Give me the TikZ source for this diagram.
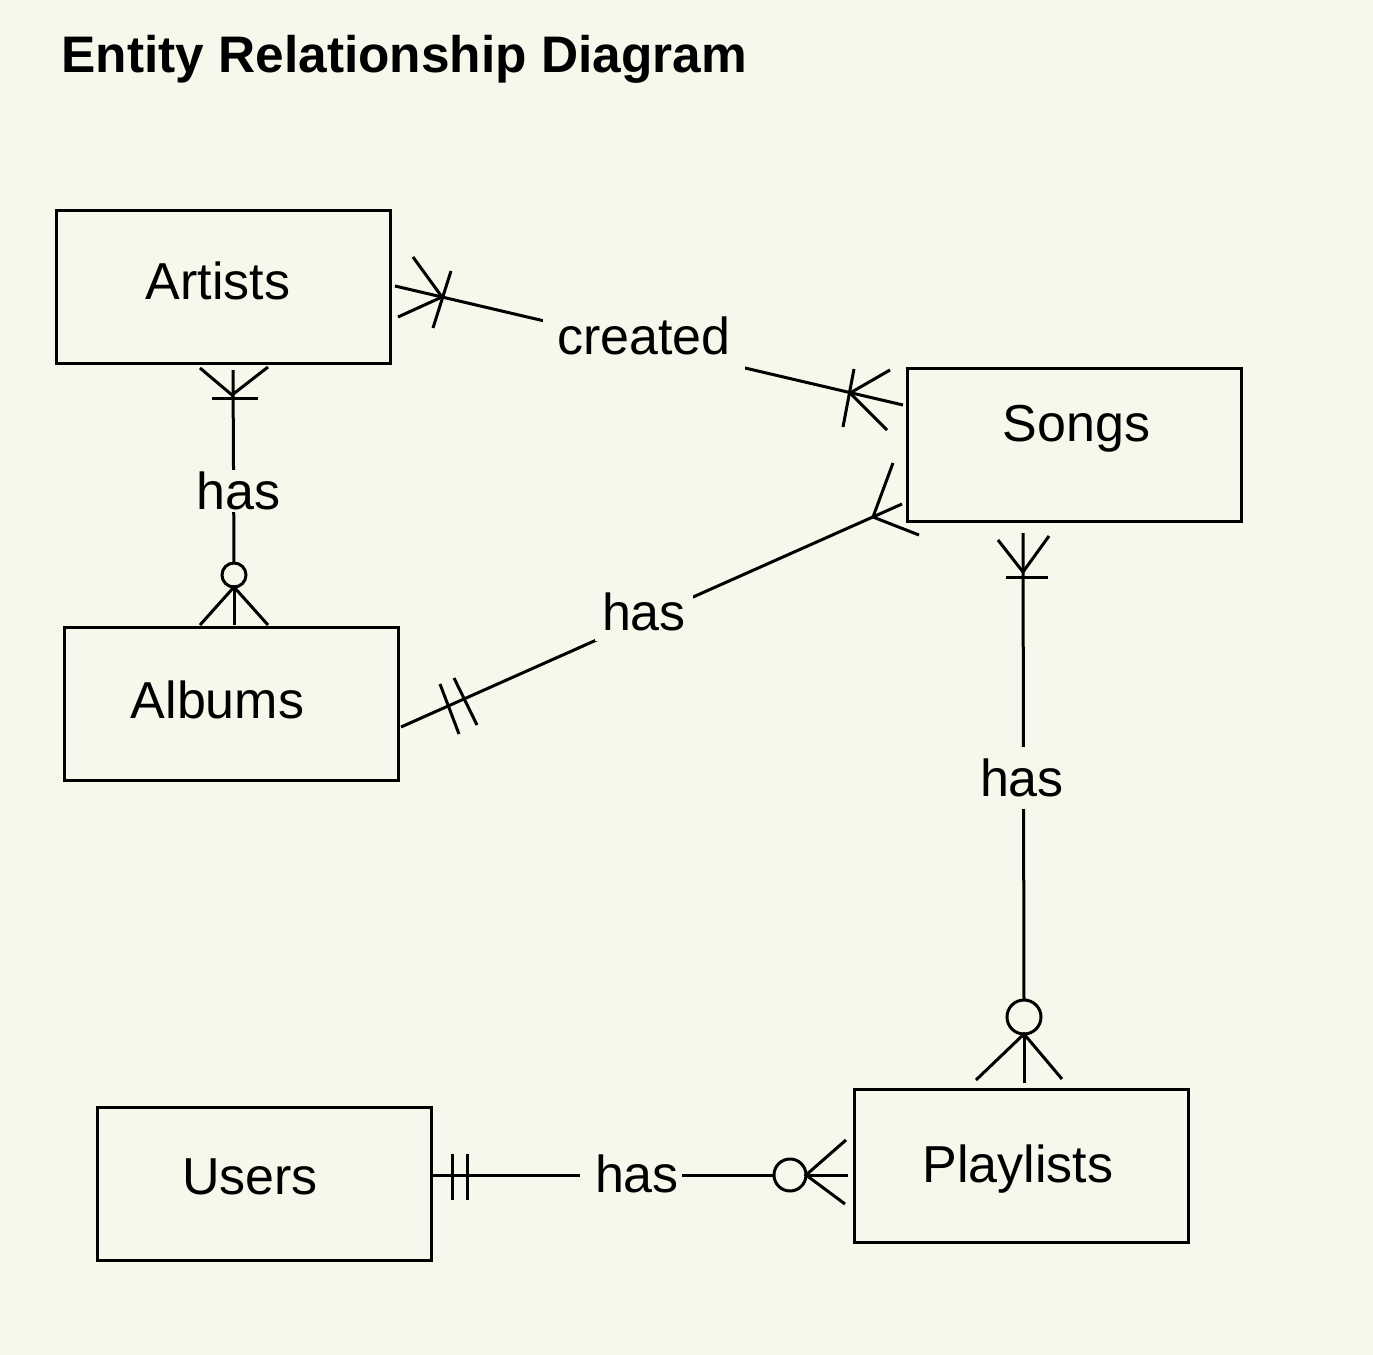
\documentclass[tikz,border=0pt]{standalone}
\usepackage{fontspec}
\setmainfont{Liberation Sans}
\definecolor{paper}{RGB}{247,247,236}

\begin{document}
\begin{tikzpicture}[x=0.5pt,y=-0.5pt,line width=1.5pt,
    entity/.style={draw,minimum width=167pt,minimum height=76.5pt,inner sep=0pt},
    ename/.style={font=\fontsize{26}{30}\selectfont,text depth=0pt,inner sep=0pt},
    rel/.style={fill=paper,font=\fontsize{26}{30}\selectfont,text depth=0pt,inner sep=2pt}]
 \fill[paper] (0,0) rectangle (1373,1355);
 \useasboundingbox (0,0) rectangle (1373,1355);
 \node[anchor=base west,inner sep=0pt,font=\bfseries\fontsize{25.7}{30}\selectfont] (title)
  at (60,72) {Entity Relationship Diagram};
 % entities
 \node[entity,label={[ename,name=artists-t,xshift=-2.75pt,yshift=2.75pt]center:Artists}] (artists) at (223.5,286.5) {};
 \node[entity,label={[ename,name=songs-t,xshift=1.25pt,yshift=10.75pt]center:Songs}] (songs) at (1074,444.5) {};
 \node[entity,label={[ename,name=albums-t,xshift=-6.75pt,yshift=1.75pt]center:Albums}] (albums) at (231,703.5) {};
 \node[entity,label={[ename,name=users-t,xshift=-7pt,yshift=3.75pt]center:Users}] (users) at (264,1184) {};
 \node[entity,label={[ename,name=playlists-t,xshift=-1.5pt,yshift=1pt]center:Playlists}] (playlists) at (1021,1166) {};
 % artists -- songs
 \coordinate (a-s) at (395,286);
 \coordinate (s-a) at (903,405);
 \draw (a-s) -- (s-a);
 \draw (413,257) -- (442,297) -- (398,317); \draw (451,271) -- (433,328);
 \draw (890,370) -- (850,393) -- (887,430); \draw (854,369) -- (843,427);
 \node[rel,inner xsep=7pt,inner ysep=8pt] (created) at (644,336) {created};
 % albums -- songs
 \coordinate (b-s) at (401,727);
 \coordinate (s-b) at (902,504);
 \draw (b-s) -- (s-b);
 \draw (893,463) -- (873,517) -- (919,535);
 \draw (440,684) -- (459,734); \draw (454,678) -- (477,725);
 \node[rel,inner xsep=3.5pt,inner ysep=5pt] (has-bs) at (644,612) {has};
 % artists -- albums
 \coordinate (a-b) at (233,370);
 \coordinate (b-a) at (234,563);
 \draw (a-b) -- (b-a);
 \draw (234,575) circle[radius=6pt];
 \draw (200,368) -- (232,395) -- (268,367); \draw (212,398) -- (258,398);
 \draw (200,625) -- (234,587) -- (268,625); \draw (234,587) -- (234,625);
 \node[rel,inner ysep=1pt] (has-ab) at (238.5,491) {has};
 % songs -- playlists
 \coordinate (s-p) at (1023,533);
 \coordinate (p-s) at (1024,1000);
 \draw (s-p) -- (p-s);
 \draw (1024,1017) circle[radius=8.5pt];
 \draw (998,540) -- (1023,572) -- (1049,536); \draw (1006,577) -- (1048,577);
 \draw (976,1080) -- (1024,1034) -- (1062,1079); \draw (1024,1034) -- (1024,1083);
 \node[rel,inner ysep=6pt] (has-sp) at (1022,778) {has};
 % users -- playlists
 \coordinate (u-p) at (433,1175);
 \coordinate (p-u) at (774,1175);
 \draw (u-p) -- (p-u);
 \draw (790,1175) circle[radius=8pt];
 \draw (452,1154) -- (452,1200); \draw (467,1154) -- (467,1200);
 \draw (846,1140) -- (806,1175) -- (845,1204); \draw (806,1175) -- (848,1175);
 \node[rel,inner xsep=1.5pt] (has-up) at (631,1174) {\hspace{6pt}has};
\end{tikzpicture}
\end{document}
